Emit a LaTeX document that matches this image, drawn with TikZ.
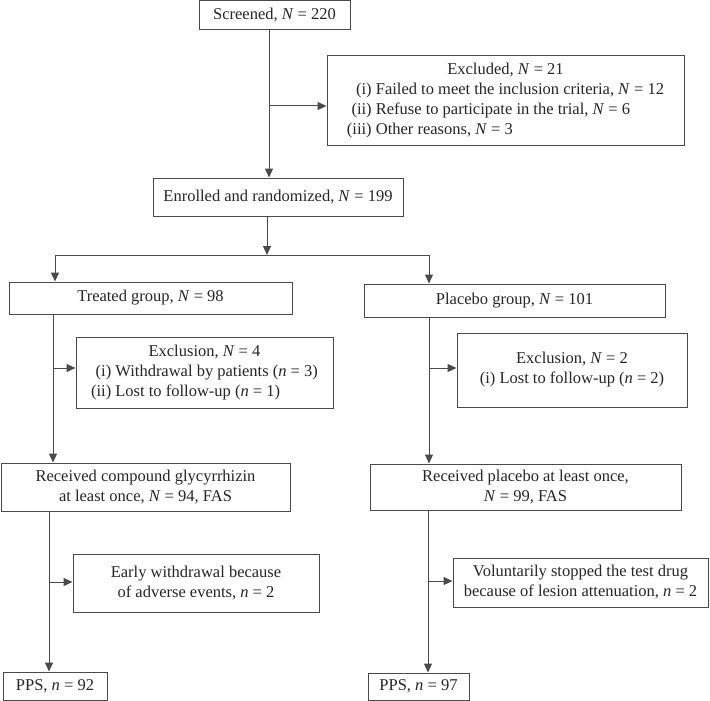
\documentclass[tikz,border=0pt]{standalone}
\usepackage{fontspec}
\setmainfont{Liberation Serif}
\usetikzlibrary{arrows.meta}

\definecolor{linegray}{HTML}{4A4A4A}
\definecolor{textgray}{HTML}{262626}

\newcommand{\eqn}[2]{\textit{#1}~=~#2}

\begin{document}
\begin{tikzpicture}[x=1pt, y=-1pt,
  box/.style={draw=linegray, line width=1pt, inner sep=0pt, text=textgray,
    align=center, font=\fontsize{16.5}{20}\selectfont},
  ln/.style={draw=linegray, line width=1pt},
  arr/.style={ln, -{Triangle[length=9pt, width=8pt]}}]

  \useasboundingbox (0,0) rectangle (710,701);

  % boxes
  \node[box, minimum width=151pt, minimum height=29pt] (scr) at (274.5,15.5) {Screened, \eqn{N}{220}};
  \node[box, minimum width=357pt, minimum height=89pt] (exc) at (505.5,100.5)
    {\begin{tabular}{@{}r@{ }l@{}}
      \multicolumn{2}{c}{Excluded, \eqn{N}{21}}\\
      (i) & Failed to meet the inclusion criteria, \eqn{N}{12}\\
      (ii) & Refuse to participate in the trial, \eqn{N}{6}\\
      (iii) & Other reasons, \eqn{N}{3}
    \end{tabular}};
  \node[box, minimum width=250pt, minimum height=38pt] (enr) at (278,197) {Enrolled and randomized, \eqn{N}{199}};

  \node[box, minimum width=283pt, minimum height=32pt] (tre) at (150.5,298) {Treated group, \eqn{N}{98}};
  \node[box, minimum width=301pt, minimum height=33pt] (pla) at (514.5,300.5) {Placebo group, \eqn{N}{101}};

  \node[box, minimum width=257pt, minimum height=71pt] (exl) at (204.5,372.5)
    {\begin{tabular}{@{}r@{ }l@{}}
      \multicolumn{2}{c}{Exclusion, \eqn{N}{4}}\\
      (i) & Withdrawal by patients (\eqn{n}{3})\\
      (ii) & Lost to follow-up (\eqn{n}{1})
    \end{tabular}};
  \node[box, minimum width=230pt, minimum height=74pt] (exr) at (572,370)
    {Exclusion, \eqn{N}{2}\\(i) Lost to follow-up (\eqn{n}{2})};

  \node[box, minimum width=289pt, minimum height=48pt] (rcl) at (145.5,487)
    {Received compound glycyrrhizin\\at least once, \eqn{N}{94}, FAS};
  \node[box, minimum width=311pt, minimum height=46pt] (rcp) at (525.5,487)
    {Received placebo at least once,\\\eqn{N}{99}, FAS};

  \node[box, minimum width=246pt, minimum height=58pt] (ewl) at (196,583)
    {Early withdrawal because\\of adverse events, \eqn{n}{2}};
  \node[box, minimum width=255pt, minimum height=49pt] (vol) at (580.5,582.5)
    {Voluntarily stopped the test drug\\because of lesion attenuation, \eqn{n}{2}};

  \node[box, minimum width=104pt, minimum height=28pt] (ppl) at (55,686) {PPS, \eqn{n}{92}};
  \node[box, minimum width=101pt, minimum height=27pt] (ppr) at (418.5,686.5) {PPS, \eqn{n}{97}};

  % branch points
  \coordinate (sp1) at (269,106);
  \coordinate (sp2) at (267,255);
  \coordinate (spL) at (55,255);
  \coordinate (spR) at (429,255);
  \coordinate (exL) at (53,368);
  \coordinate (exR) at (429,368);
  \coordinate (wdL) at (49,582);
  \coordinate (wdR) at (428,581);

  % arrows
  \draw[arr] (scr.south -| sp1) -- (enr.north -| sp1);
  \draw[arr] (sp1) -- (sp1 -| exc.west);
  \draw[arr] (enr.south -| sp2) -- (sp2);
  \draw[ln] (spL) -- (spR);
  \draw[arr] (spL) -- (tre.north -| spL);
  \draw[arr] (spR) -- (pla.north -| spR);

  \draw[arr] (tre.south -| exL) -- (rcl.north -| exL);
  \draw[arr] (exL) -- (exL -| exl.west);
  \draw[arr] (pla.south -| exR) -- (rcp.north -| exR);
  \draw[arr] (exR) -- (exR -| exr.west);

  \draw[arr] (rcl.south -| wdL) -- (ppl.north -| wdL);
  \draw[arr] (wdL) -- (wdL -| ewl.west);
  \draw[arr] (rcp.south -| wdR) -- (ppr.north -| wdR);
  \draw[arr] (wdR) -- (wdR -| vol.west);

\end{tikzpicture}
\end{document}
